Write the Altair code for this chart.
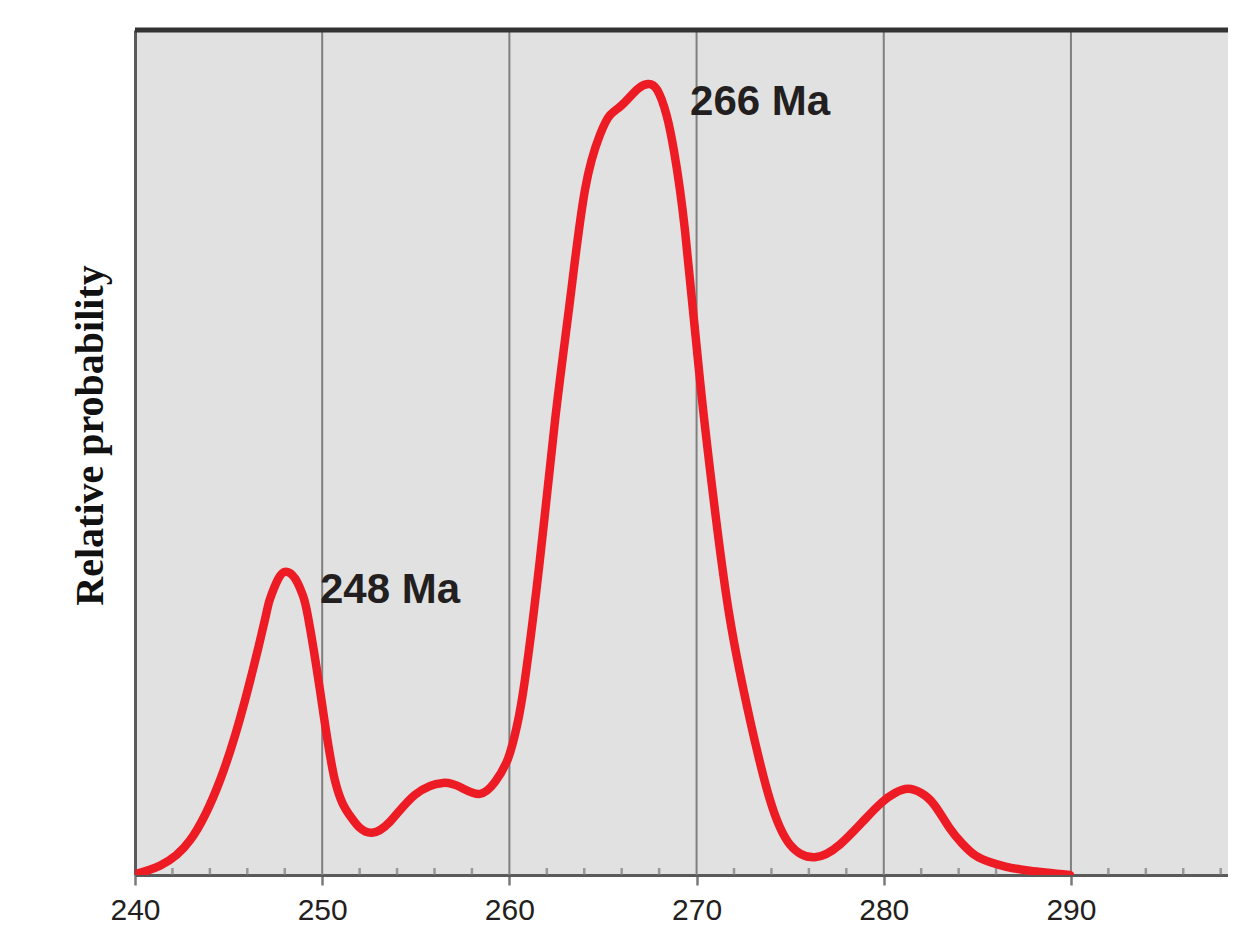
import altair as alt
import pandas as pd

# Probability density curve (age in Ma, relative probability in %)
ages = [240.0, 241.34, 242.94, 244.54, 245.88, 246.94, 247.2, 247.64, 248.07, 248.55,
        248.95, 249.24, 249.88, 250.68, 251.49, 252.0, 252.66, 253.62, 254.96, 256.45,
        257.47, 258.43, 259.23, 259.93, 260.4, 260.83, 261.63, 262.44, 263.24, 264.04,
        264.84, 265.37, 265.9, 266.4, 266.9, 267.4, 267.9, 268.4, 268.8, 269.38,
        270.18, 270.98, 271.79, 272.86, 273.92, 274.99, 276.32, 277.66, 279.0, 279.9,
        280.6, 281.3, 282.0, 282.7, 283.5, 284.2, 284.9, 285.7, 286.5, 287.8,
        289.95]
probs = [0.1, 1.1, 4.1, 11.2, 20.7, 30.2, 32.6, 35.0, 35.9, 35.1,
         33.2, 30.6, 21.9, 11.2, 7.0, 5.6, 5.0, 6.3, 9.5, 10.9,
         10.3, 9.6, 11.0, 13.8, 17.6, 23.1, 37.3, 53.8, 68.0, 81.1,
         87.6, 89.9, 90.9, 92.0, 93.1, 93.6, 92.9, 89.9, 85.6, 76.3,
         58.6, 43.2, 30.2, 18.3, 8.9, 3.6, 2.1, 3.6, 6.6, 8.6,
         9.7, 10.2, 9.7, 8.3, 5.6, 3.7, 2.3, 1.5, 1.0, 0.5,
         0.0]

label_text = ["248 Ma", "266 Ma"]
label_age = [249.88, 269.65]
label_prob = [32.2, 89.9]

major_ticks = [240, 250, 260, 270, 280, 290]
grid_ticks = [250, 260, 270, 280, 290]
minor_ticks = [v for v in range(242, 299, 2) if v % 10 != 0]

X_MIN, X_MAX = 240, 298.39
Y_MIN, Y_MAX = 0, 100

curve = pd.DataFrame({"age": ages, "prob": probs})
labels = pd.DataFrame({"age": label_age, "prob": label_prob, "text": label_text})
minor = pd.DataFrame({"age": minor_ticks})

xscale = alt.Scale(domain=[X_MIN, X_MAX], nice=False, zero=False)
yscale = alt.Scale(domain=[Y_MIN, Y_MAX], nice=False, zero=True)

line = alt.Chart(curve).mark_line(
    color="#ed1c24", strokeWidth=8.5, strokeCap="round", strokeJoin="round",
    interpolate="natural", clip=True
).encode(
    x=alt.X("age:Q", scale=xscale, axis=alt.Axis(
        values=major_ticks, format="d", title=None,
        grid=False, domain=True, domainColor="#5a5a5a", domainWidth=3,
        ticks=True, tickSize=10, tickWidth=2.5, tickColor="#7a7a7a",
        labelFont="Liberation Sans", labelFontSize=30, labelColor="#231f20",
        labelPadding=10, labelFlush=False)),
    y=alt.Y("prob:Q", scale=yscale, axis=alt.Axis(
        title="Relative probability", titleFont="Liberation Serif",
        titleFontWeight="bold", titleFontSize=40, titleColor="#111111",
        titleAngle=270, titleAlign="center", titleBaseline="alphabetic",
        titleX=-33, titleY=405,
        labels=False, ticks=False, grid=False,
        domain=True, domainColor="#5a5a5a", domainWidth=3)),
)

grid = alt.Chart(pd.DataFrame({"age": grid_ticks})).mark_rule(
    color="#7f7f7f", strokeWidth=2
).encode(
    x=alt.X("age:Q", scale=xscale),
)

minor_rules = alt.Chart(minor).mark_tick(
    color="#7a7a7a", thickness=2.5, size=7, orient="vertical"
).encode(
    x=alt.X("age:Q", scale=xscale),
    y=alt.value(841.5),
)

top_border = alt.Chart(pd.DataFrame({"age": [X_MIN]})).mark_rule(
    color="#333333", strokeWidth=5
).encode(
    x=alt.X("age:Q", scale=xscale),
    x2=alt.value(1093),
    y=alt.value(0),
)

text = alt.Chart(labels).mark_text(
    font="Liberation Sans", fontWeight="bold", fontSize=42, color="#231f20",
    align="left", baseline="alphabetic"
).encode(
    x=alt.X("age:Q", scale=xscale),
    y=alt.Y("prob:Q", scale=yscale),
    text="text:N",
)

chart = alt.layer(grid, minor_rules, line, text, top_border).properties(
    width=1093, height=845,
    background="white",
    padding={"left": 127, "top": 22, "right": 0, "bottom": 50},
    autosize=alt.AutoSizeParams(type="none"),
).configure_view(
    fill="#e1e1e1", stroke=None
)

chart.save("out.html", embed_options={"renderer": "svg", "actions": False})
